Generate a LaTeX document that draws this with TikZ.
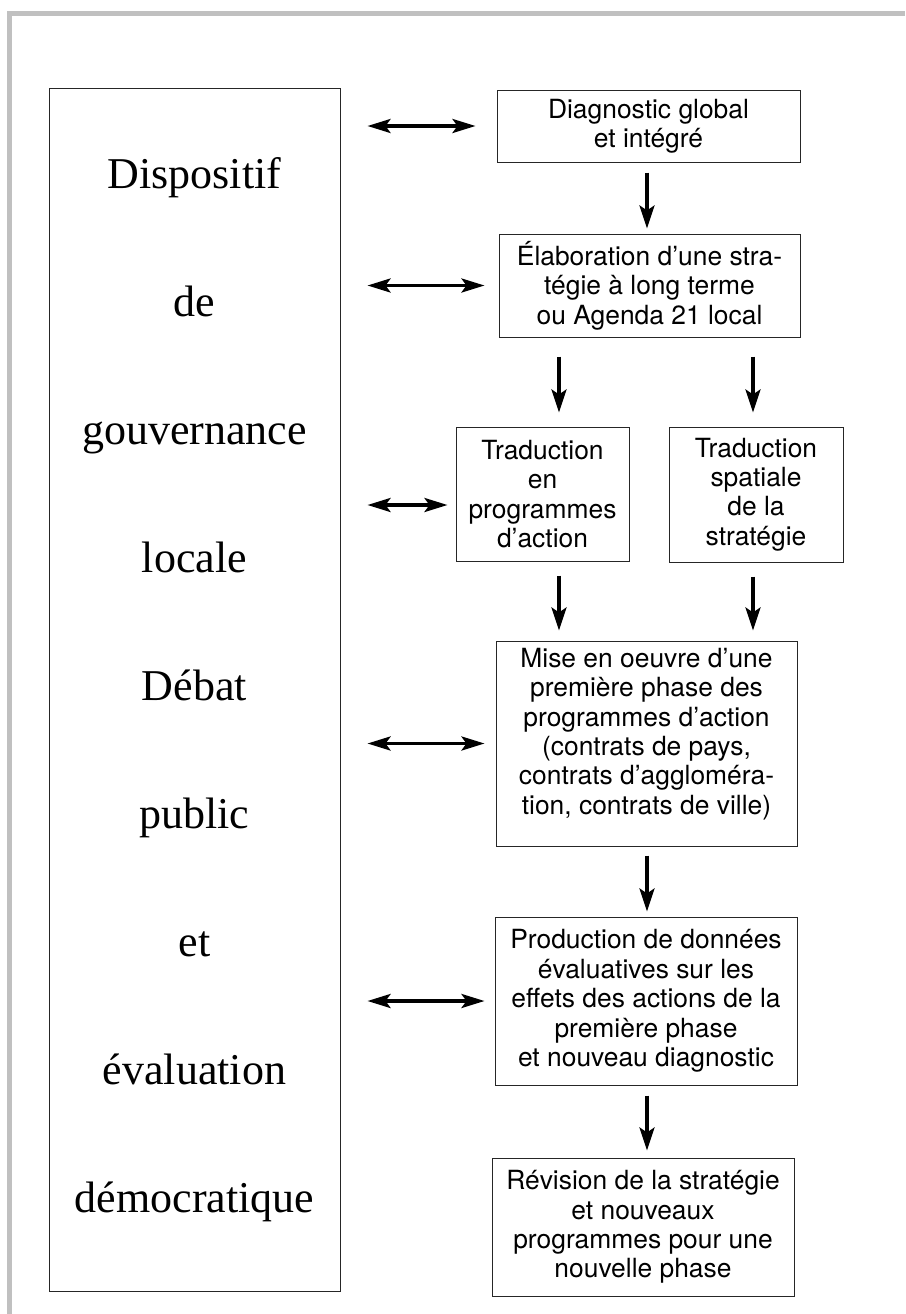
\documentclass[tikz,border=0pt]{standalone}
\usepackage{fontspec}
\newfontfamily\boxfont{TeX Gyre Heros}
\newfontfamily\govfont{Liberation Serif}
\usetikzlibrary{arrows.meta, calc}
\definecolor{framegray}{RGB}{192,192,192}

\begin{document}
\begin{tikzpicture}[x=1pt, y=-1pt,
  box/.style={draw=black!85, line width=1pt, inner sep=0pt, align=center,
    font=\boxfont\fontsize{26.4}{29.4}\selectfont},
  flow/.style={line width=3.6pt, -{Stealth[length=23pt, width=15pt, inset=5pt]}},
  link/.style={line width=3.6pt,
    {Stealth[length=23pt, width=14pt, inset=5pt]}-{Stealth[length=23pt, width=14pt, inset=5pt]},
    shorten <=27pt}]

  \useasboundingbox (0,0) rectangle (905,1314);
  % cadre gris
  \draw[framegray, line width=5pt] (9.5,1314) -- (9.5,13.5) -- (905,13.5);

  % colonne de gauche
  \node[draw=black!85, line width=1pt, inner sep=0pt, minimum width=291pt,
    minimum height=1203pt, align=center, font=\govfont\fontsize{44}{128}\selectfont]
    (gov) at (194.5,689.5)
    {Dispositif\\de\\gouvernance\\locale\\Débat\\public\\et\\évaluation\\démocratique};

  % etapes
  \node[box, minimum width=303pt, minimum height=72pt] (diag) at (648.5,126)
    {Diagnostic global\\et intégré};
  \node[box, minimum width=301pt, minimum height=103pt] (elab) at (649.5,285.5)
    {Élaboration d’une stra-\\tégie à long terme\\ou Agenda 21 local};
  \node[box, minimum width=173pt, minimum height=134pt] (tradL) at (542.5,494)
    {Traduction\\en\\programmes\\d’action};
  \node[box, minimum width=174pt, minimum height=135pt] (tradR) at (756,494.5)
    {Traduction\\spatiale\\de la\\stratégie};
  \node[box, minimum width=301pt, minimum height=205pt] (mise) at (646.5,743.5)
    {Mise en oeuvre d’une\\première phase des\\programmes d’action\\(contrats de pays,\\contrats d’aggloméra-\\tion, contrats de ville)\\[-4.9pt]\mbox{}};
  \node[box, minimum width=302pt, minimum height=168pt] (prod) at (646,1001)
    {Production de données\\évaluatives sur les\\effets des actions de la\\première phase\\et nouveau diagnostic};
  \node[box, minimum width=302pt, minimum height=138pt] (rev) at (643,1227)
    {Révision de la stratégie\\et nouveaux\\programmes pour une\\nouvelle phase};

  \coordinate (colM) at (647,0);
  \coordinate (colL) at (559,0);
  \coordinate (colR) at (753,0);

  % fleches verticales
  \draw[flow, shorten <=10pt, shorten >=5pt] (colM |- diag.south) -- (colM |- elab.north);
  \draw[flow, shorten <=19pt, shorten >=14pt] (colL |- elab.south) -- (colL |- tradL.north);
  \draw[flow, shorten <=19pt, shorten >=14pt] (colR |- elab.south) -- (colR |- tradR.north);
  \draw[flow, shorten <=14pt, shorten >=10pt] (colL |- tradL.south) -- (colL |- mise.north);
  \draw[flow, shorten <=14pt, shorten >=10pt] (colR |- tradR.south) -- (colR |- mise.north);
  \draw[flow, shorten <=9pt, shorten >=5pt] (colM |- mise.south) -- (colM |- prod.north);
  \draw[flow, shorten <=10pt, shorten >=7pt] (colM |- prod.south) -- (colM |- rev.north);

  % fleches doubles
  \foreach \b/\s in {diag/21, elab/14, mise/11, prod/10}{
    \draw[link, shorten >=\s pt] (gov.east |- \b.west) -- (\b.west);
  }
  \draw[link, shorten >=8pt] (gov.east |- {$(tradL.west)+(0,11)$}) -- ($(tradL.west)+(0,11)$);

\end{tikzpicture}
\end{document}
